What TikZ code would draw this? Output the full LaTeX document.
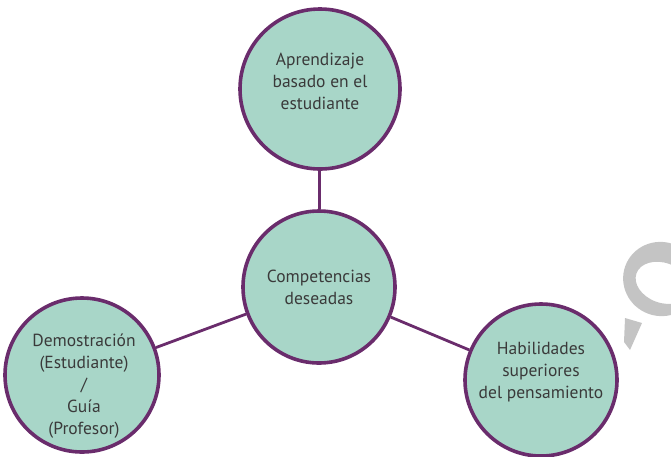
\documentclass[tikz,border=0pt]{standalone}
\usepackage{fontspec}
\setmainfont{PT Sans}
\definecolor{fillc}{HTML}{A8D6C8}
\definecolor{edgec}{HTML}{6A2C6C}
\definecolor{txt}{HTML}{3A3A3A}
\definecolor{wm}{HTML}{C4C4C4}
\begin{document}
\begin{tikzpicture}[x=1pt,y=-1pt,
  bub/.style={circle,draw=edgec,line width=3.6pt,fill=fillc,minimum size=#1,inner sep=0pt},
  btext/.style={align=center,text=txt,inner sep=0pt,font=\fontsize{17.5}{22}\selectfont},
  link/.style={draw=edgec,line width=2.8pt}]
\useasboundingbox (0,0) rectangle (671,456);
% watermark fragment
\begin{scope}
\clip (0,0) rectangle (671,456);
\fill[wm,even odd rule,rotate around={-20:(661,279)}] (661,279) ellipse[x radius=38,y radius=37] (664,282) ellipse[x radius=28,y radius=20];
\fill[wm] (625,318) -- (642,323) -- (630,350) -- (624,342) -- cycle;
\end{scope}
\node[bub=160pt] (top) at (320,89) {};
\node[bub=152pt] (mid) at (319,287) {};
\node[bub=154pt] (left) at (82,375) {};
\node[bub=152pt] (right) at (541,380) {};
\node[btext] (topt) at (320,81) {Aprendizaje\\basado en el\\estudiante};
\node[btext] (midt) at (319,287) {Competencias\\deseadas};
\node[btext] (leftt) at (84,386) {Demostración\\(Estudiante)\\/\\Guía\\(Profesor)};
\node[btext] (rightt) at (541,372) {Habilidades\\superiores\\del pensamiento};
\draw[link] (top) -- (mid);
\draw[link] (mid) -- (left);
\draw[link] (mid) -- (right);
\end{tikzpicture}
\end{document}
